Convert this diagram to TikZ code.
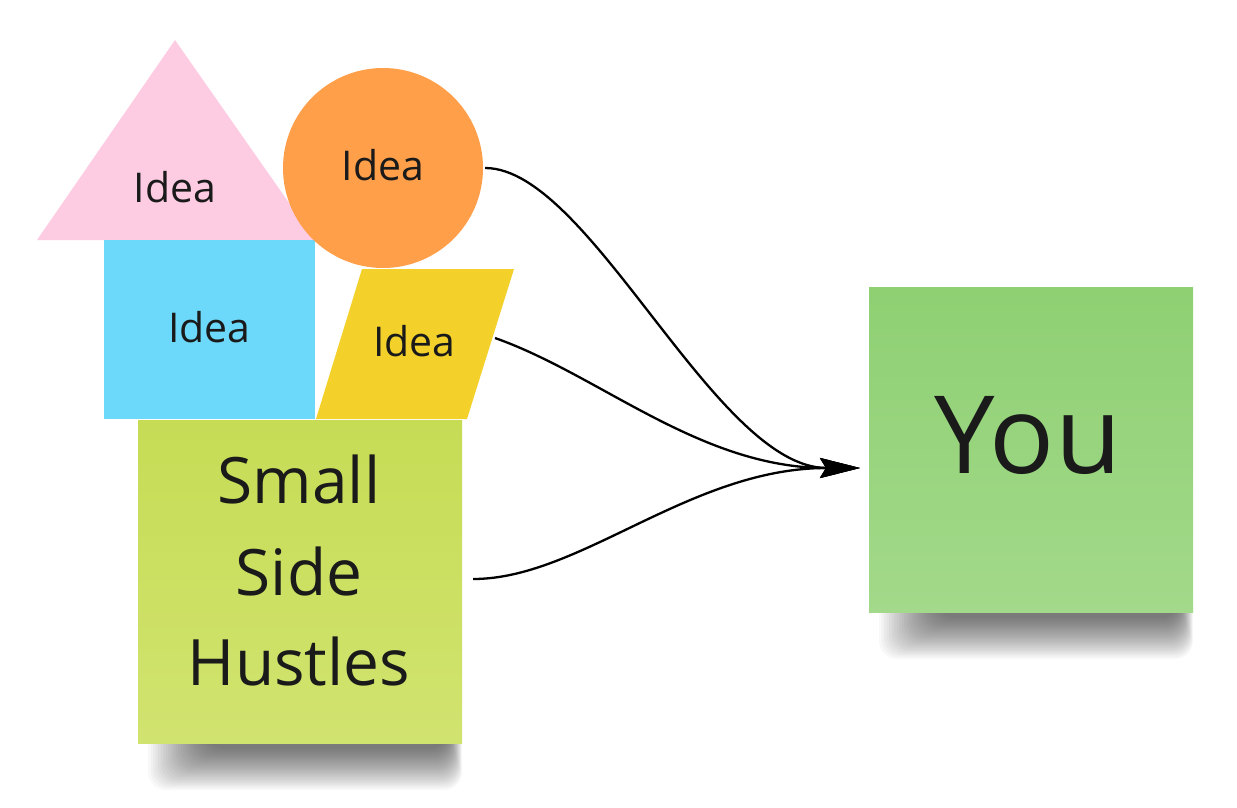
\documentclass[tikz,border=0pt]{standalone}
\usepackage{fontspec}
\setmainfont{Open Sans}
\usetikzlibrary{arrows.meta}
\definecolor{ink}{HTML}{1A1A1A}
\definecolor{pinkidea}{HTML}{FECCE2}
\definecolor{blueidea}{HTML}{6CD9FA}
\definecolor{orangeidea}{HTML}{FF9F4A}
\definecolor{yellowidea}{HTML}{F4D12A}
\definecolor{limetop}{HTML}{C6DC55}
\definecolor{limebot}{HTML}{D1E36F}
\definecolor{greentop}{HTML}{8FD073}
\definecolor{greenbot}{HTML}{A2D98A}
\begin{document}
\begin{tikzpicture}[x=1pt,y=-1pt,
  idea/.style={anchor=base, text=ink, font=\fontsize{41}{49}\selectfont, inner sep=0pt},
  bigtext/.style={anchor=base, text=ink, font=\fontsize{64}{77}\selectfont, inner sep=0pt},
  youtext/.style={anchor=base, text=ink, font=\fontsize{108}{120}\selectfont, inner sep=0pt},
  conn/.style={draw=black, line width=2.3pt, -{Stealth[length=40pt,width=20pt,inset=6pt]}},
  sticky/.style={rectangle, draw=none, inner sep=0pt, minimum width=324pt, minimum height=323pt},
  shadowpiece/.style={fill=black, opacity=0.027, rounded corners=18pt}
]
\fill[white] (0,0) rectangle (1237,807);
\useasboundingbox (0,0) rectangle (1237,807);

% shadows under the sticky notes
\foreach \k in {0,...,23} {
  \fill[shadowpiece] (148+\k*2.5, 703) rectangle (462-\k*0.6, 790-\k*1.8);
  \fill[shadowpiece] (879+\k*2.5, 572) rectangle (1193-\k*0.6, 659-\k*1.8);
}

% sticky notes
\node[sticky, top color=limetop, bottom color=limebot] (side) at (300,581.5) {};
\node[sticky, minimum height=325pt, top color=greentop, bottom color=greenbot] (you) at (1031,449.5) {};

% idea shapes
\fill[pinkidea] (175,40) -- (315,240) -- (37,240) -- cycle;
\fill[blueidea] (104,240) rectangle (315,419);
\fill[yellowidea] (362,269) -- (514,269) -- (467,419) -- (316,419) -- cycle;
\node[circle, fill=orangeidea, minimum size=200pt, inner sep=0pt] (circ) at (383,168) {};

% texts
\node[idea] (tri) at (175,202) {Idea};
\node[idea] (circtext) at (383,180) {Idea};
\node[idea] (sq) at (209.5,342) {Idea};
\node[idea] (para) at (414.5,356) {Idea};
\node[bigtext] (sm1) at (299,503) {Small};
\node[bigtext] (sm2) at (299,595) {Side};
\node[bigtext] (sm3) at (299,685) {Hustles};
\node[youtext] (youtxt) at (1028,473) {You};

% connectors
\coordinate (pe) at (495,338);
\coordinate (tip) at (860,468);
\draw[conn] ([xshift=2pt]circ.east) .. controls (590,168) and (715,468) .. (tip);
\draw[conn] (pe) .. controls (600,375) and (700,468) .. (tip);
\draw[conn] ([xshift=11pt,yshift=2.5pt]side.east) .. controls (580,579) and (690,468) .. (tip);
\end{tikzpicture}
\end{document}
